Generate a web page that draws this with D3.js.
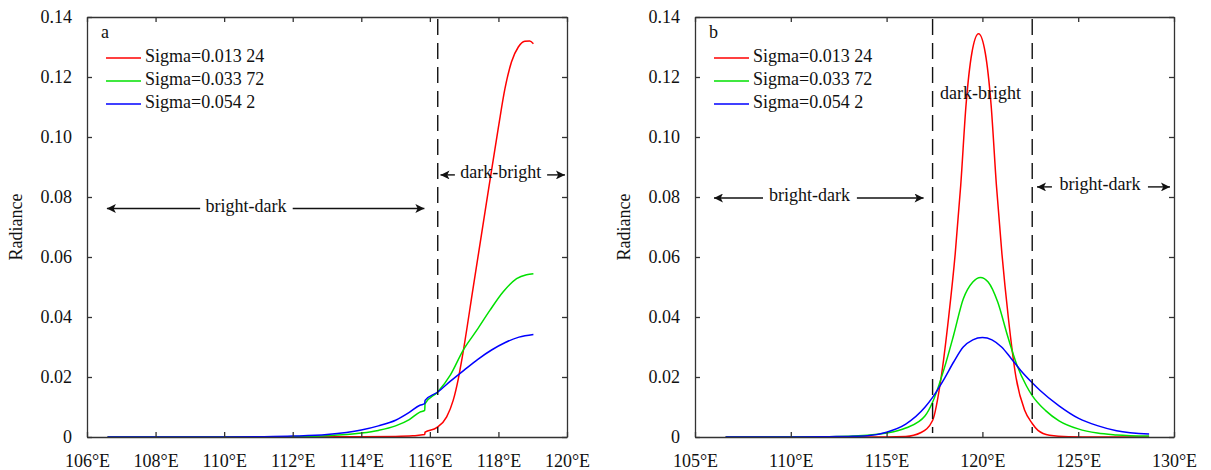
<!DOCTYPE html>
<html lang="en">
<head>
<meta charset="UTF-8">
<title>Radiance profiles</title>
<script src="https://d3js.org/d3.v7.min.js"></script>
<style>
  body { margin: 0; background: #fff; }
  svg text { font-family: "Liberation Serif", "Times New Roman", serif; font-size: 18px; fill: #111; }
  .eixo path, .eixo line { stroke: #333; stroke-width: 1.3; }
</style>
</head>
<body>
<svg id="grafico" width="1211" height="470"></svg>
<script>
// legend labels and colours
const sigmaLabels = ["Sigma=0.013 24", "Sigma=0.033 72", "Sigma=0.054 2"];
const coresSerie = ["#ff0000", "#00e000", "#0000ff"];

// panel a : [longitude, radiance]
const aRed = [[106.6,0],[110,0],[112,0],[114,0.0001],[115,0.0002],[115.5,0.0004],[115.85,0.0008],[115.86,0.0016],
  [116.2,0.0031],[116.49,0.0067],[116.68,0.0122],[116.83,0.0194],[116.93,0.0256],[117.27,0.0503],
  [117.61,0.0751],[118.0,0.1033],[118.19,0.1161],[118.38,0.125],[118.58,0.13],[118.77,0.1319],
  [118.91,0.132],[119.02,0.1311]];
const aGreen = [[106.6,0],[111,0],[112,0.0001],[113,0.0004],[114,0.0013],[114.5,0.0022],[115,0.0037],[115.4,0.0058],
  [115.71,0.0083],[115.85,0.0089],[115.86,0.0111],[116.23,0.015],[116.6,0.0207],[116.97,0.0289],
  [117.37,0.0356],[117.75,0.0422],[118.14,0.0484],[118.53,0.0528],[118.82,0.0541],[119.02,0.0544]];
const aBlue = [[106.6,0],[110,0],[111,0.0001],[112,0.0003],[113,0.0008],[114,0.0023],[114.5,0.0037],[115,0.0056],
  [115.4,0.0082],[115.71,0.0106],[115.85,0.0111],[115.86,0.0122],[116.23,0.015],[116.6,0.0186],
  [117.0,0.0223],[117.4,0.0259],[117.8,0.029],[118.2,0.0315],[118.6,0.0333],[119.02,0.0342]];

// panel b : [longitude, radiance]
const bRed = [[106.6,0],[110,0],[114,0],[116,0.0002],[116.8,0.0015],[117.4,0.0055],[117.85,0.02],[118.24,0.04],
  [118.58,0.061],[118.87,0.084],[119.15,0.111],[119.45,0.128],[119.8,0.1344],[120.15,0.128],[120.45,0.111],
  [120.73,0.084],[121.02,0.061],[121.35,0.04],[121.75,0.02],[122.2,0.009],[122.6,0.0045],[122.9,0.0022],
  [123.5,0.0006],[124.5,0.0001],[126,0],[128.7,0]];
const bGreen = [[106.6,0],[112,0.0001],[114,0.0006],[115,0.0013],[116,0.003],[117,0.007],[117.4,0.0116],
  [118,0.0227],[118.5,0.034],[119,0.046],[119.5,0.0517],[119.9,0.0532],[120.3,0.0517],[120.8,0.045],
  [121.3,0.034],[121.8,0.024],[122.3,0.017],[122.6,0.0138],[123.3,0.0088],[124,0.0054],[125,0.0027],
  [126,0.0013],[127,0.0007],[128.7,0.0003]];
const bBlue = [[106.6,0],[110,0],[112,0.0001],[113,0.0002],[114,0.0004],[115,0.0016],[116,0.0043],[117,0.0099],
  [117.4,0.0132],[118,0.0193],[118.5,0.025],[119,0.03],[119.5,0.0324],[120,0.0332],[120.5,0.0324],[121,0.03],
  [121.5,0.0262],[122,0.0222],[122.6,0.0181],[123,0.0156],[124,0.0104],[125,0.0063],[126,0.0038],[127,0.0021],
  [128.7,0.001]];

const aXTicks = [106,108,110,112,114,116,118,120];
const bXTicks = [105,110,115,120,125,130];
const yTicks = [0,0.02,0.04,0.06,0.08,0.10,0.12,0.14];

const aDashed = [116.23];
const bDashed = [117.4, 122.6];

const svg = d3.select("#grafico");

// arrow head
svg.append("defs").append("marker")
  .attr("id", "seta")
  .attr("viewBox", "0 0 10 10")
  .attr("refX", 10).attr("refY", 5)
  .attr("markerWidth", 11).attr("markerHeight", 9)
  .attr("markerUnits", "userSpaceOnUse")
  .attr("orient", "auto-start-reverse")
  .append("path").attr("d", "M0,0 L10,5 L0,10 L2.5,5 Z").attr("fill", "#111");

function painel(opts) {
  const x = d3.scaleLinear().domain(opts.xDomain).range([opts.left, opts.right]);
  const y = d3.scaleLinear().domain([0, 0.14]).range([437, 17]);
  const g = svg.append("g");

  // curves
  const linha = d3.line().x(d => x(d[0])).y(d => y(d[1])).curve(d3.curveMonotoneX);
  opts.series.forEach((s, i) => {
    g.append("path").datum(s).attr("d", linha)
      .attr("fill", "none").attr("stroke", coresSerie[i]).attr("stroke-width", 1.5);
  });

  // dashed separators
  g.selectAll(".tracejado").data(opts.dashed).enter().append("line")
    .attr("x1", d => x(d)).attr("x2", d => x(d))
    .attr("y1", y(0.14) + 2).attr("y2", y(0) - 4)
    .attr("stroke", "#111").attr("stroke-width", 1.4).attr("stroke-dasharray", "16,8");

  // axes (ticks inside, mirrored on top and right)
  const fmtY = d => d === 0 ? "0" : d3.format(".2f")(d);
  g.append("g").attr("class", "eixo").attr("transform", `translate(0,${y(0)})`)
    .call(d3.axisBottom(x).tickValues(opts.xTicks).tickSizeInner(-5).tickSizeOuter(0)
      .tickPadding(17).tickFormat(d => d + "°E"));
  g.append("g").attr("class", "eixo").attr("transform", `translate(0,${y(0.14)})`)
    .call(d3.axisTop(x).tickValues(opts.xTicks).tickSizeInner(-5).tickSizeOuter(0).tickFormat(""));
  g.append("g").attr("class", "eixo").attr("transform", `translate(${opts.left},0)`)
    .call(d3.axisLeft(y).tickValues(yTicks).tickSizeInner(-5).tickSizeOuter(0)
      .tickPadding(15).tickFormat(fmtY));
  g.append("g").attr("class", "eixo").attr("transform", `translate(${opts.right},0)`)
    .call(d3.axisRight(y).tickValues(yTicks).tickSizeInner(-5).tickSizeOuter(0).tickFormat(""));
  g.selectAll(".eixo text").attr("font-size", 18).attr("fill", "#111")
    .attr("font-family", "Liberation Serif");

  // y label
  g.append("text").attr("transform", `translate(${opts.left - 69},227) rotate(-90)`)
    .attr("text-anchor", "middle").attr("dominant-baseline", "middle").text("Radiance");

  // panel letter
  g.append("text").attr("x", opts.left + 14).attr("y", 34)
    .attr("dominant-baseline", "middle").text(opts.letter);

  // legend
  sigmaLabels.forEach((lbl, i) => {
    const ly = 58 + i * 23;
    g.append("line").attr("x1", opts.left + 19).attr("x2", opts.left + 54)
      .attr("y1", ly).attr("y2", ly).attr("stroke", coresSerie[i]).attr("stroke-width", 1.5);
    g.append("text").attr("x", opts.left + 58).attr("y", ly)
      .attr("dominant-baseline", "middle").text(lbl);
  });

  // annotations: arrows and labels
  opts.notes.forEach(n => {
    const ty = y(n.v);
    g.append("text").attr("x", x(n.c)).attr("y", ty).attr("text-anchor", "middle")
      .attr("dominant-baseline", "middle").text(n.txt);
    n.arrows.forEach(a => {
      g.append("line").attr("x1", x(a[0])).attr("x2", x(a[1]))
        .attr("y1", ty + 1).attr("y2", ty + 1)
        .attr("stroke", "#111").attr("stroke-width", 1.4).attr("marker-end", "url(#seta)");
    });
  });
}

painel({
  letter: "a", left: 87, right: 567, xDomain: [106, 120], xTicks: aXTicks,
  series: [aRed, aGreen, aBlue], dashed: aDashed,
  notes: [
    { txt: "bright-dark", c: 110.64, v: 0.0765, arrows: [[109.3, 106.58], [112.0, 115.84]] },
    { txt: "dark-bright", c: 118.07, v: 0.0877, arrows: [[116.73, 116.31], [119.42, 119.94]] }
  ]
});

painel({
  letter: "b", left: 695, right: 1174, xDomain: [105, 130], xTicks: bXTicks,
  series: [bRed, bGreen, bBlue], dashed: bDashed,
  notes: [
    { txt: "bright-dark", c: 110.98, v: 0.08, arrows: [[108.55, 105.99], [113.45, 116.93]] },
    { txt: "dark-bright", c: 119.9, v: 0.114, arrows: [] },
    { txt: "bright-dark", c: 126.14, v: 0.0837, arrows: [[123.63, 122.85], [128.64, 129.79]] }
  ]
});
</script>
</body>
</html>
